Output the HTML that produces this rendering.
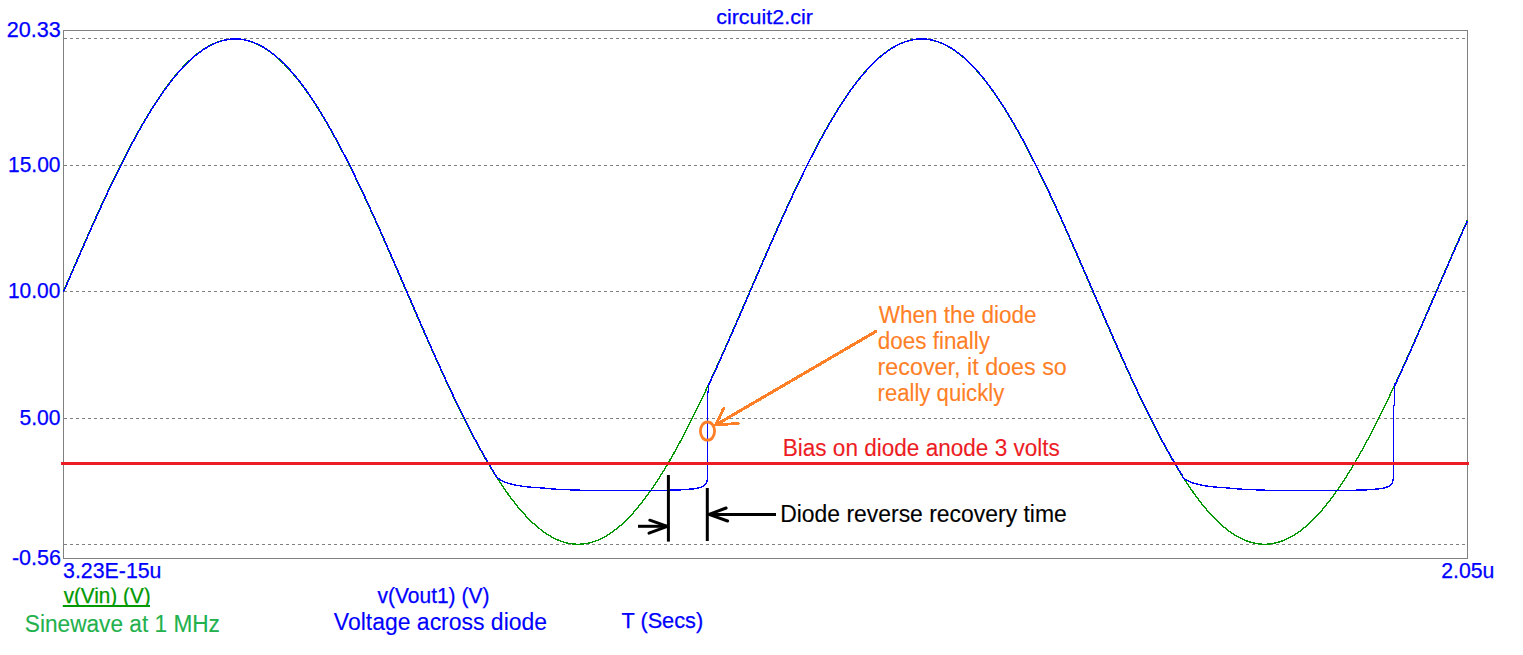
<!DOCTYPE html>
<html><head><meta charset="utf-8"><title>circuit2.cir</title>
<style>
html,body{margin:0;padding:0;background:#fff;}
body{width:1523px;height:655px;overflow:hidden;}
svg{display:block;}
text{font-family:"Liberation Sans",sans-serif;}
</style></head><body>
<svg width="1523" height="655" viewBox="0 0 1523 655">
<defs><clipPath id="cpv"><rect x="50" y="587.6" width="120" height="19.4"/></clipPath></defs>
<rect width="1523" height="655" fill="#fff"/>
<line x1="64" y1="38.5" x2="1467" y2="38.5" stroke="#808080" stroke-width="1" stroke-dasharray="3 3"/>
<line x1="64" y1="165.5" x2="1467" y2="165.5" stroke="#808080" stroke-width="1" stroke-dasharray="3 3"/>
<line x1="64" y1="291.5" x2="1467" y2="291.5" stroke="#808080" stroke-width="1" stroke-dasharray="3 3"/>
<line x1="64" y1="418.5" x2="1467" y2="418.5" stroke="#808080" stroke-width="1" stroke-dasharray="3 3"/>
<line x1="64" y1="544.5" x2="1467" y2="544.5" stroke="#808080" stroke-width="1" stroke-dasharray="3 3"/>

<rect x="63.5" y="30.5" width="1404" height="528" fill="none" stroke="#808080" stroke-width="1"/>
<path d="M63.5,291.1 L64.5,288.8 L65.5,286.5 L66.5,284.2 L67.5,281.9 L68.5,279.6 L69.5,277.3 L70.5,275.0 L71.5,272.7 L72.5,270.3 L73.5,268.0 L74.5,265.7 L75.5,263.4 L76.5,261.1 L77.5,258.9 L78.5,256.6 L79.5,254.3 L80.5,252.0 L81.5,249.7 L82.5,247.4 L83.5,245.1 L84.5,242.9 L85.5,240.6 L86.5,238.3 L87.5,236.1 L88.5,233.8 L89.5,231.6 L90.5,229.3 L91.5,227.1 L92.5,224.9 L93.5,222.6 L94.5,220.4 L95.5,218.2 L96.5,216.0 L97.5,213.8 L98.5,211.6 L99.5,209.4 L100.5,207.2 L101.5,205.0 L102.5,202.9 L103.5,200.7 L104.5,198.6 L105.5,196.4 L106.5,194.3 L107.5,192.1 L108.5,190.0 L109.5,187.9 L110.5,185.8 L111.5,183.7 L112.5,181.6 L113.5,179.5 L114.5,177.5 L115.5,175.4 L116.5,173.4 L117.5,171.3 L118.5,169.3 L119.5,167.3 L120.5,165.3 L121.5,163.3 L122.5,161.3 L123.5,159.3 L124.5,157.3 L125.5,155.4 L126.5,153.5 L127.5,151.5 L128.5,149.6 L129.5,147.7 L130.5,145.8 L131.5,143.9 L132.5,142.1 L133.5,140.2 L134.5,138.3 L135.5,136.5 L136.5,134.7 L137.5,132.9 L138.5,131.1 L139.5,129.3 L140.5,127.6 L141.5,125.8 L142.5,124.1 L143.5,122.3 L144.5,120.6 L145.5,118.9 L146.5,117.3 L147.5,115.6 L148.5,113.9 L149.5,112.3 L150.5,110.7 L151.5,109.1 L152.5,107.5 L153.5,105.9 L154.5,104.3 L155.5,102.8 L156.5,101.3 L157.5,99.8 L158.5,98.3 L159.5,96.8 L160.5,95.3 L161.5,93.9 L162.5,92.4 L163.5,91.0 L164.5,89.6 L165.5,88.2 L166.5,86.9 L167.5,85.5 L168.5,84.2 L169.5,82.9 L170.5,81.6 L171.5,80.3 L172.5,79.1 L173.5,77.8 L174.5,76.6 L175.5,75.4 L176.5,74.2 L177.5,73.0 L178.5,71.9 L179.5,70.7 L180.5,69.6 L181.5,68.5 L182.5,67.5 L183.5,66.4 L184.5,65.4 L185.5,64.3 L186.5,63.3 L187.5,62.4 L188.5,61.4 L189.5,60.5 L190.5,59.5 L191.5,58.6 L192.5,57.7 L193.5,56.9 L194.5,56.0 L195.5,55.2 L196.5,54.4 L197.5,53.6 L198.5,52.8 L199.5,52.1 L200.5,51.4 L201.5,50.7 L202.5,50.0 L203.5,49.3 L204.5,48.7 L205.5,48.0 L206.5,47.4 L207.5,46.9 L208.5,46.3 L209.5,45.7 L210.5,45.2 L211.5,44.7 L212.5,44.2 L213.5,43.8 L214.5,43.3 L215.5,42.9 L216.5,42.5 L217.5,42.1 L218.5,41.8 L219.5,41.5 L220.5,41.1 L221.5,40.8 L222.5,40.6 L223.5,40.3 L224.5,40.1 L225.5,39.9 L226.5,39.7 L227.5,39.5 L228.5,39.4 L229.5,39.3 L230.5,39.2 L231.5,39.1 L232.5,39.0 L233.5,39.0 L234.5,39.0 L235.5,39.0 L236.5,39.0 L237.5,39.0 L238.5,39.1 L239.5,39.2 L240.5,39.3 L241.5,39.4 L242.5,39.6 L243.5,39.7 L244.5,39.9 L245.5,40.1 L246.5,40.4 L247.5,40.6 L248.5,40.9 L249.5,41.2 L250.5,41.5 L251.5,41.9 L252.5,42.2 L253.5,42.6 L254.5,43.0 L255.5,43.4 L256.5,43.9 L257.5,44.3 L258.5,44.8 L259.5,45.3 L260.5,45.9 L261.5,46.4 L262.5,47.0 L263.5,47.6 L264.5,48.2 L265.5,48.8 L266.5,49.4 L267.5,50.1 L268.5,50.8 L269.5,51.5 L270.5,52.2 L271.5,53.0 L272.5,53.8 L273.5,54.6 L274.5,55.4 L275.5,56.2 L276.5,57.0 L277.5,57.9 L278.5,58.8 L279.5,59.7 L280.5,60.6 L281.5,61.6 L282.5,62.6 L283.5,63.5 L284.5,64.5 L285.5,65.6 L286.5,66.6 L287.5,67.7 L288.5,68.8 L289.5,69.9 L290.5,71.0 L291.5,72.1 L292.5,73.3 L293.5,74.4 L294.5,75.6 L295.5,76.8 L296.5,78.1 L297.5,79.3 L298.5,80.6 L299.5,81.9 L300.5,83.1 L301.5,84.5 L302.5,85.8 L303.5,87.1 L304.5,88.5 L305.5,89.9 L306.5,91.3 L307.5,92.7 L308.5,94.2 L309.5,95.6 L310.5,97.1 L311.5,98.6 L312.5,100.1 L313.5,101.6 L314.5,103.1 L315.5,104.7 L316.5,106.2 L317.5,107.8 L318.5,109.4 L319.5,111.0 L320.5,112.6 L321.5,114.3 L322.5,115.9 L323.5,117.6 L324.5,119.3 L325.5,121.0 L326.5,122.7 L327.5,124.4 L328.5,126.1 L329.5,127.9 L330.5,129.7 L331.5,131.5 L332.5,133.3 L333.5,135.1 L334.5,136.9 L335.5,138.7 L336.5,140.6 L337.5,142.4 L338.5,144.3 L339.5,146.2 L340.5,148.1 L341.5,150.0 L342.5,151.9 L343.5,153.8 L344.5,155.8 L345.5,157.7 L346.5,159.7 L347.5,161.7 L348.5,163.7 L349.5,165.7 L350.5,167.7 L351.5,169.7 L352.5,171.7 L353.5,173.8 L354.5,175.8 L355.5,177.9 L356.5,180.0 L357.5,182.0 L358.5,184.1 L359.5,186.2 L360.5,188.3 L361.5,190.4 L362.5,192.6 L363.5,194.7 L364.5,196.8 L365.5,199.0 L366.5,201.1 L367.5,203.3 L368.5,205.5 L369.5,207.7 L370.5,209.8 L371.5,212.0 L372.5,214.2 L373.5,216.4 L374.5,218.6 L375.5,220.9 L376.5,223.1 L377.5,225.3 L378.5,227.6 L379.5,229.8 L380.5,232.0 L381.5,234.3 L382.5,236.5 L383.5,238.8 L384.5,241.1 L385.5,243.3 L386.5,245.6 L387.5,247.9 L388.5,250.2 L389.5,252.4 L390.5,254.7 L391.5,257.0 L392.5,259.3 L393.5,261.6 L394.5,263.9 L395.5,266.2 L396.5,268.5 L397.5,270.8 L398.5,273.1 L399.5,275.4 L400.5,277.7 L401.5,280.0 L402.5,282.4 L403.5,284.7 L404.5,287.0 L405.5,289.3 L406.5,291.6 L407.5,293.9 L408.5,296.2 L409.5,298.5 L410.5,300.8 L411.5,303.2 L412.5,305.5 L413.5,307.8 L414.5,310.1 L415.5,312.4 L416.5,314.7 L417.5,317.0 L418.5,319.3 L419.5,321.6 L420.5,323.9 L421.5,326.2 L422.5,328.5 L423.5,330.8 L424.5,333.0 L425.5,335.3 L426.5,337.6 L427.5,339.9 L428.5,342.1 L429.5,344.4 L430.5,346.7 L431.5,348.9 L432.5,351.2 L433.5,353.4 L434.5,355.6 L435.5,357.9 L436.5,360.1 L437.5,362.3 L438.5,364.6 L439.5,366.8 L440.5,369.0 L441.5,371.2 L442.5,373.4 L443.5,375.5 L444.5,377.7 L445.5,379.9 L446.5,382.1 L447.5,384.2 L448.5,386.4 L449.5,388.5 L450.5,390.6 L451.5,392.8 L452.5,394.9 L453.5,397.0 L454.5,399.1 L455.5,401.2 L456.5,403.2 L457.5,405.3 L458.5,407.4 L459.5,409.4 L460.5,411.5 L461.5,413.5 L462.5,415.5 L463.5,417.5 L464.5,419.5 L465.5,421.5 L466.5,423.5 L467.5,425.5 L468.5,427.4 L469.5,429.4 L470.5,431.3 L471.5,433.2 L472.5,435.1 L473.5,437.0 L474.5,438.9 L475.5,440.8 L476.5,442.6 L477.5,444.5 L478.5,446.3 L479.5,448.1 L480.5,449.9 L481.5,451.7 L482.5,453.5 L483.5,455.3 L484.5,457.1 L485.5,458.8 L486.5,460.5 L487.5,462.2 L488.5,463.9 L489.5,465.6 L490.5,467.3 L491.5,468.9 L492.5,470.6 L493.5,472.2 L494.5,473.8 L495.5,475.4 L496.5,477.0 L497.5,478.5 L498.5,480.1 L499.5,481.6 L500.5,483.1 L501.5,484.6 L502.5,486.1 L503.5,487.6 L504.5,489.0 L505.5,490.5 L506.5,491.9 L507.5,493.3 L508.5,494.7 L509.5,496.1 L510.5,497.4 L511.5,498.7 L512.5,500.1 L513.5,501.3 L514.5,502.6 L515.5,503.9 L516.5,505.1 L517.5,506.4 L518.5,507.6 L519.5,508.8 L520.5,509.9 L521.5,511.1 L522.5,512.2 L523.5,513.3 L524.5,514.4 L525.5,515.5 L526.5,516.6 L527.5,517.6 L528.5,518.7 L529.5,519.7 L530.5,520.6 L531.5,521.6 L532.5,522.6 L533.5,523.5 L534.5,524.4 L535.5,525.3 L536.5,526.2 L537.5,527.0 L538.5,527.8 L539.5,528.6 L540.5,529.4 L541.5,530.2 L542.5,531.0 L543.5,531.7 L544.5,532.4 L545.5,533.1 L546.5,533.8 L547.5,534.4 L548.5,535.0 L549.5,535.6 L550.5,536.2 L551.5,536.8 L552.5,537.3 L553.5,537.9 L554.5,538.4 L555.5,538.9 L556.5,539.3 L557.5,539.8 L558.5,540.2 L559.5,540.6 L560.5,541.0 L561.5,541.3 L562.5,541.7 L563.5,542.0 L564.5,542.3 L565.5,542.6 L566.5,542.8 L567.5,543.1 L568.5,543.3 L569.5,543.5 L570.5,543.6 L571.5,543.8 L572.5,543.9 L573.5,544.0 L574.5,544.1 L575.5,544.2 L576.5,544.2 L577.5,544.2 L578.5,544.2 L579.5,544.2 L580.5,544.2 L581.5,544.1 L582.5,544.0 L583.5,543.9 L584.5,543.8 L585.5,543.7 L586.5,543.5 L587.5,543.3 L588.5,543.1 L589.5,542.9 L590.5,542.6 L591.5,542.4 L592.5,542.1 L593.5,541.7 L594.5,541.4 L595.5,541.1 L596.5,540.7 L597.5,540.3 L598.5,539.9 L599.5,539.4 L600.5,539.0 L601.5,538.5 L602.5,538.0 L603.5,537.5 L604.5,536.9 L605.5,536.3 L606.5,535.8 L607.5,535.2 L608.5,534.5 L609.5,533.9 L610.5,533.2 L611.5,532.5 L612.5,531.8 L613.5,531.1 L614.5,530.4 L615.5,529.6 L616.5,528.8 L617.5,528.0 L618.5,527.2 L619.5,526.3 L620.5,525.5 L621.5,524.6 L622.5,523.7 L623.5,522.7 L624.5,521.8 L625.5,520.8 L626.5,519.9 L627.5,518.9 L628.5,517.8 L629.5,516.8 L630.5,515.7 L631.5,514.7 L632.5,513.6 L633.5,512.5 L634.5,511.3 L635.5,510.2 L636.5,509.0 L637.5,507.8 L638.5,506.6 L639.5,505.4 L640.5,504.1 L641.5,502.9 L642.5,501.6 L643.5,500.3 L644.5,499.0 L645.5,497.7 L646.5,496.3 L647.5,495.0 L648.5,493.6 L649.5,492.2 L650.5,490.8 L651.5,489.3 L652.5,487.9 L653.5,486.4 L654.5,484.9 L655.5,483.4 L656.5,481.9 L657.5,480.4 L658.5,478.9 L659.5,477.3 L660.5,475.7 L661.5,474.1 L662.5,472.5 L663.5,470.9 L664.5,469.3 L665.5,467.6 L666.5,465.9 L667.5,464.3 L668.5,462.6 L669.5,460.9 L670.5,459.1 L671.5,457.4 L672.5,455.6 L673.5,453.9 L674.5,452.1 L675.5,450.3 L676.5,448.5 L677.5,446.7 L678.5,444.9 L679.5,443.0 L680.5,441.1 L681.5,439.3 L682.5,437.4 L683.5,435.5 L684.5,433.6 L685.5,431.7 L686.5,429.7 L687.5,427.8 L688.5,425.9 L689.5,423.9 L690.5,421.9 L691.5,419.9 L692.5,417.9 L693.5,415.9 L694.5,413.9 L695.5,411.9 L696.5,409.8 L697.5,407.8 L698.5,405.7 L699.5,403.7 L700.5,401.6 L701.5,399.5 L702.5,397.4 L703.5,395.3 L704.5,393.2 L705.5,391.1 L706.5,388.9 L707.5,386.8 L708.5,384.6 L709.5,382.5 L710.5,380.3 L711.5,378.2 L712.5,376.0 L713.5,373.8 L714.5,371.6 L715.5,369.4 L716.5,367.2 L717.5,365.0 L718.5,362.8 L719.5,360.6 L720.5,358.3 L721.5,356.1 L722.5,353.9 L723.5,351.6 L724.5,349.4 L725.5,347.1 L726.5,344.9 L727.5,342.6 L728.5,340.3 L729.5,338.1 L730.5,335.8 L731.5,333.5 L732.5,331.2 L733.5,328.9 L734.5,326.6 L735.5,324.3 L736.5,322.1 L737.5,319.8 L738.5,317.5 L739.5,315.2 L740.5,312.9 L741.5,310.5 L742.5,308.2 L743.5,305.9 L744.5,303.6 L745.5,301.3 L746.5,299.0 L747.5,296.7 L748.5,294.4 L749.5,292.1 L750.5,289.7 L751.5,287.4 L752.5,285.1 L753.5,282.8 L754.5,280.5 L755.5,278.2 L756.5,275.9 L757.5,273.6 L758.5,271.3 L759.5,269.0 L760.5,266.7 L761.5,264.4 L762.5,262.1 L763.5,259.8 L764.5,257.5 L765.5,255.2 L766.5,252.9 L767.5,250.6 L768.5,248.3 L769.5,246.1 L770.5,243.8 L771.5,241.5 L772.5,239.3 L773.5,237.0 L774.5,234.7 L775.5,232.5 L776.5,230.2 L777.5,228.0 L778.5,225.8 L779.5,223.5 L780.5,221.3 L781.5,219.1 L782.5,216.9 L783.5,214.7 L784.5,212.5 L785.5,210.3 L786.5,208.1 L787.5,205.9 L788.5,203.7 L789.5,201.6 L790.5,199.4 L791.5,197.3 L792.5,195.1 L793.5,193.0 L794.5,190.9 L795.5,188.8 L796.5,186.6 L797.5,184.5 L798.5,182.5 L799.5,180.4 L800.5,178.3 L801.5,176.2 L802.5,174.2 L803.5,172.1 L804.5,170.1 L805.5,168.1 L806.5,166.1 L807.5,164.1 L808.5,162.1 L809.5,160.1 L810.5,158.1 L811.5,156.2 L812.5,154.2 L813.5,152.3 L814.5,150.4 L815.5,148.5 L816.5,146.6 L817.5,144.7 L818.5,142.8 L819.5,140.9 L820.5,139.1 L821.5,137.2 L822.5,135.4 L823.5,133.6 L824.5,131.8 L825.5,130.0 L826.5,128.3 L827.5,126.5 L828.5,124.8 L829.5,123.0 L830.5,121.3 L831.5,119.6 L832.5,117.9 L833.5,116.2 L834.5,114.6 L835.5,112.9 L836.5,111.3 L837.5,109.7 L838.5,108.1 L839.5,106.5 L840.5,105.0 L841.5,103.4 L842.5,101.9 L843.5,100.4 L844.5,98.9 L845.5,97.4 L846.5,95.9 L847.5,94.4 L848.5,93.0 L849.5,91.6 L850.5,90.2 L851.5,88.8 L852.5,87.4 L853.5,86.1 L854.5,84.7 L855.5,83.4 L856.5,82.1 L857.5,80.8 L858.5,79.6 L859.5,78.3 L860.5,77.1 L861.5,75.9 L862.5,74.7 L863.5,73.5 L864.5,72.3 L865.5,71.2 L866.5,70.1 L867.5,69.0 L868.5,67.9 L869.5,66.8 L870.5,65.8 L871.5,64.7 L872.5,63.7 L873.5,62.8 L874.5,61.8 L875.5,60.8 L876.5,59.9 L877.5,59.0 L878.5,58.1 L879.5,57.2 L880.5,56.4 L881.5,55.5 L882.5,54.7 L883.5,53.9 L884.5,53.1 L885.5,52.4 L886.5,51.7 L887.5,50.9 L888.5,50.3 L889.5,49.6 L890.5,48.9 L891.5,48.3 L892.5,47.7 L893.5,47.1 L894.5,46.5 L895.5,46.0 L896.5,45.4 L897.5,44.9 L898.5,44.4 L899.5,44.0 L900.5,43.5 L901.5,43.1 L902.5,42.7 L903.5,42.3 L904.5,41.9 L905.5,41.6 L906.5,41.3 L907.5,41.0 L908.5,40.7 L909.5,40.4 L910.5,40.2 L911.5,40.0 L912.5,39.8 L913.5,39.6 L914.5,39.4 L915.5,39.3 L916.5,39.2 L917.5,39.1 L918.5,39.0 L919.5,39.0 L920.5,39.0 L921.5,39.0 L922.5,39.0 L923.5,39.0 L924.5,39.1 L925.5,39.1 L926.5,39.2 L927.5,39.4 L928.5,39.5 L929.5,39.7 L930.5,39.8 L931.5,40.1 L932.5,40.3 L933.5,40.5 L934.5,40.8 L935.5,41.1 L936.5,41.4 L937.5,41.7 L938.5,42.1 L939.5,42.4 L940.5,42.8 L941.5,43.3 L942.5,43.7 L943.5,44.1 L944.5,44.6 L945.5,45.1 L946.5,45.6 L947.5,46.2 L948.5,46.7 L949.5,47.3 L950.5,47.9 L951.5,48.5 L952.5,49.2 L953.5,49.8 L954.5,50.5 L955.5,51.2 L956.5,52.0 L957.5,52.7 L958.5,53.5 L959.5,54.2 L960.5,55.0 L961.5,55.9 L962.5,56.7 L963.5,57.6 L964.5,58.4 L965.5,59.3 L966.5,60.3 L967.5,61.2 L968.5,62.2 L969.5,63.1 L970.5,64.1 L971.5,65.2 L972.5,66.2 L973.5,67.2 L974.5,68.3 L975.5,69.4 L976.5,70.5 L977.5,71.7 L978.5,72.8 L979.5,74.0 L980.5,75.1 L981.5,76.3 L982.5,77.6 L983.5,78.8 L984.5,80.1 L985.5,81.3 L986.5,82.6 L987.5,83.9 L988.5,85.3 L989.5,86.6 L990.5,88.0 L991.5,89.3 L992.5,90.7 L993.5,92.1 L994.5,93.6 L995.5,95.0 L996.5,96.5 L997.5,98.0 L998.5,99.5 L999.5,101.0 L1000.5,102.5 L1001.5,104.0 L1002.5,105.6 L1003.5,107.2 L1004.5,108.7 L1005.5,110.4 L1006.5,112.0 L1007.5,113.6 L1008.5,115.3 L1009.5,116.9 L1010.5,118.6 L1011.5,120.3 L1012.5,122.0 L1013.5,123.7 L1014.5,125.5 L1015.5,127.2 L1016.5,129.0 L1017.5,130.7 L1018.5,132.5 L1019.5,134.3 L1020.5,136.2 L1021.5,138.0 L1022.5,139.8 L1023.5,141.7 L1024.5,143.5 L1025.5,145.4 L1026.5,147.3 L1027.5,149.2 L1028.5,151.1 L1029.5,153.1 L1030.5,155.0 L1031.5,157.0 L1032.5,158.9 L1033.5,160.9 L1034.5,162.9 L1035.5,164.9 L1036.5,166.9 L1037.5,168.9 L1038.5,170.9 L1039.5,173.0 L1040.5,175.0 L1041.5,177.1 L1042.5,179.1 L1043.5,181.2 L1044.5,183.3 L1045.5,185.4 L1046.5,187.5 L1047.5,189.6 L1048.5,191.7 L1049.5,193.8 L1050.5,196.0 L1051.5,198.1 L1052.5,200.3 L1053.5,202.4 L1054.5,204.6 L1055.5,206.8 L1056.5,209.0 L1057.5,211.2 L1058.5,213.4 L1059.5,215.6 L1060.5,217.8 L1061.5,220.0 L1062.5,222.2 L1063.5,224.4 L1064.5,226.7 L1065.5,228.9 L1066.5,231.1 L1067.5,233.4 L1068.5,235.6 L1069.5,237.9 L1070.5,240.2 L1071.5,242.4 L1072.5,244.7 L1073.5,247.0 L1074.5,249.2 L1075.5,251.5 L1076.5,253.8 L1077.5,256.1 L1078.5,258.4 L1079.5,260.7 L1080.5,263.0 L1081.5,265.3 L1082.5,267.6 L1083.5,269.9 L1084.5,272.2 L1085.5,274.5 L1086.5,276.8 L1087.5,279.1 L1088.5,281.4 L1089.5,283.7 L1090.5,286.0 L1091.5,288.4 L1092.5,290.7 L1093.5,293.0 L1094.5,295.3 L1095.5,297.6 L1096.5,299.9 L1097.5,302.2 L1098.5,304.5 L1099.5,306.9 L1100.5,309.2 L1101.5,311.5 L1102.5,313.8 L1103.5,316.1 L1104.5,318.4 L1105.5,320.7 L1106.5,323.0 L1107.5,325.3 L1108.5,327.6 L1109.5,329.8 L1110.5,332.1 L1111.5,334.4 L1112.5,336.7 L1113.5,339.0 L1114.5,341.2 L1115.5,343.5 L1116.5,345.8 L1117.5,348.0 L1118.5,350.3 L1119.5,352.5 L1120.5,354.8 L1121.5,357.0 L1122.5,359.2 L1123.5,361.4 L1124.5,363.7 L1125.5,365.9 L1126.5,368.1 L1127.5,370.3 L1128.5,372.5 L1129.5,374.7 L1130.5,376.9 L1131.5,379.0 L1132.5,381.2 L1133.5,383.3 L1134.5,385.5 L1135.5,387.6 L1136.5,389.8 L1137.5,391.9 L1138.5,394.0 L1139.5,396.1 L1140.5,398.2 L1141.5,400.3 L1142.5,402.4 L1143.5,404.5 L1144.5,406.5 L1145.5,408.6 L1146.5,410.6 L1147.5,412.7 L1148.5,414.7 L1149.5,416.7 L1150.5,418.7 L1151.5,420.7 L1152.5,422.7 L1153.5,424.7 L1154.5,426.6 L1155.5,428.6 L1156.5,430.5 L1157.5,432.4 L1158.5,434.4 L1159.5,436.3 L1160.5,438.2 L1161.5,440.0 L1162.5,441.9 L1163.5,443.7 L1164.5,445.6 L1165.5,447.4 L1166.5,449.2 L1167.5,451.0 L1168.5,452.8 L1169.5,454.6 L1170.5,456.4 L1171.5,458.1 L1172.5,459.8 L1173.5,461.5 L1174.5,463.3 L1175.5,464.9 L1176.5,466.6 L1177.5,468.3 L1178.5,469.9 L1179.5,471.6 L1180.5,473.2 L1181.5,474.8 L1182.5,476.4 L1183.5,477.9 L1184.5,479.5 L1185.5,481.0 L1186.5,482.5 L1187.5,484.0 L1188.5,485.5 L1189.5,487.0 L1190.5,488.5 L1191.5,489.9 L1192.5,491.3 L1193.5,492.7 L1194.5,494.1 L1195.5,495.5 L1196.5,496.9 L1197.5,498.2 L1198.5,499.5 L1199.5,500.8 L1200.5,502.1 L1201.5,503.4 L1202.5,504.6 L1203.5,505.9 L1204.5,507.1 L1205.5,508.3 L1206.5,509.5 L1207.5,510.6 L1208.5,511.8 L1209.5,512.9 L1210.5,514.0 L1211.5,515.1 L1212.5,516.2 L1213.5,517.2 L1214.5,518.2 L1215.5,519.3 L1216.5,520.3 L1217.5,521.2 L1218.5,522.2 L1219.5,523.1 L1220.5,524.0 L1221.5,524.9 L1222.5,525.8 L1223.5,526.7 L1224.5,527.5 L1225.5,528.3 L1226.5,529.1 L1227.5,529.9 L1228.5,530.7 L1229.5,531.4 L1230.5,532.1 L1231.5,532.8 L1232.5,533.5 L1233.5,534.1 L1234.5,534.8 L1235.5,535.4 L1236.5,536.0 L1237.5,536.6 L1238.5,537.1 L1239.5,537.7 L1240.5,538.2 L1241.5,538.7 L1242.5,539.1 L1243.5,539.6 L1244.5,540.0 L1245.5,540.4 L1246.5,540.8 L1247.5,541.2 L1248.5,541.5 L1249.5,541.9 L1250.5,542.2 L1251.5,542.5 L1252.5,542.7 L1253.5,543.0 L1254.5,543.2 L1255.5,543.4 L1256.5,543.6 L1257.5,543.7 L1258.5,543.9 L1259.5,544.0 L1260.5,544.1 L1261.5,544.2 L1262.5,544.2 L1263.5,544.2 L1264.5,544.2 L1265.5,544.2 L1266.5,544.2 L1267.5,544.2 L1268.5,544.1 L1269.5,544.0 L1270.5,543.9 L1271.5,543.7 L1272.5,543.6 L1273.5,543.4 L1274.5,543.2 L1275.5,543.0 L1276.5,542.7 L1277.5,542.5 L1278.5,542.2 L1279.5,541.9 L1280.5,541.5 L1281.5,541.2 L1282.5,540.8 L1283.5,540.4 L1284.5,540.0 L1285.5,539.6 L1286.5,539.1 L1287.5,538.7 L1288.5,538.2 L1289.5,537.7 L1290.5,537.1 L1291.5,536.6 L1292.5,536.0 L1293.5,535.4 L1294.5,534.8 L1295.5,534.1 L1296.5,533.5 L1297.5,532.8 L1298.5,532.1 L1299.5,531.4 L1300.5,530.7 L1301.5,529.9 L1302.5,529.1 L1303.5,528.3 L1304.5,527.5 L1305.5,526.7 L1306.5,525.8 L1307.5,524.9 L1308.5,524.0 L1309.5,523.1 L1310.5,522.2 L1311.5,521.2 L1312.5,520.3 L1313.5,519.3 L1314.5,518.2 L1315.5,517.2 L1316.5,516.2 L1317.5,515.1 L1318.5,514.0 L1319.5,512.9 L1320.5,511.8 L1321.5,510.6 L1322.5,509.5 L1323.5,508.3 L1324.5,507.1 L1325.5,505.9 L1326.5,504.6 L1327.5,503.4 L1328.5,502.1 L1329.5,500.8 L1330.5,499.5 L1331.5,498.2 L1332.5,496.9 L1333.5,495.5 L1334.5,494.1 L1335.5,492.7 L1336.5,491.3 L1337.5,489.9 L1338.5,488.5 L1339.5,487.0 L1340.5,485.5 L1341.5,484.0 L1342.5,482.5 L1343.5,481.0 L1344.5,479.5 L1345.5,477.9 L1346.5,476.4 L1347.5,474.8 L1348.5,473.2 L1349.5,471.6 L1350.5,469.9 L1351.5,468.3 L1352.5,466.6 L1353.5,464.9 L1354.5,463.3 L1355.5,461.5 L1356.5,459.8 L1357.5,458.1 L1358.5,456.4 L1359.5,454.6 L1360.5,452.8 L1361.5,451.0 L1362.5,449.2 L1363.5,447.4 L1364.5,445.6 L1365.5,443.7 L1366.5,441.9 L1367.5,440.0 L1368.5,438.2 L1369.5,436.3 L1370.5,434.4 L1371.5,432.4 L1372.5,430.5 L1373.5,428.6 L1374.5,426.6 L1375.5,424.7 L1376.5,422.7 L1377.5,420.7 L1378.5,418.7 L1379.5,416.7 L1380.5,414.7 L1381.5,412.7 L1382.5,410.6 L1383.5,408.6 L1384.5,406.5 L1385.5,404.5 L1386.5,402.4 L1387.5,400.3 L1388.5,398.2 L1389.5,396.1 L1390.5,394.0 L1391.5,391.9 L1392.5,389.8 L1393.5,387.6 L1394.5,385.5 L1395.5,383.3 L1396.5,381.2 L1397.5,379.0 L1398.5,376.9 L1399.5,374.7 L1400.5,372.5 L1401.5,370.3 L1402.5,368.1 L1403.5,365.9 L1404.5,363.7 L1405.5,361.4 L1406.5,359.2 L1407.5,357.0 L1408.5,354.8 L1409.5,352.5 L1410.5,350.3 L1411.5,348.0 L1412.5,345.8 L1413.5,343.5 L1414.5,341.2 L1415.5,339.0 L1416.5,336.7 L1417.5,334.4 L1418.5,332.1 L1419.5,329.8 L1420.5,327.6 L1421.5,325.3 L1422.5,323.0 L1423.5,320.7 L1424.5,318.4 L1425.5,316.1 L1426.5,313.8 L1427.5,311.5 L1428.5,309.2 L1429.5,306.9 L1430.5,304.5 L1431.5,302.2 L1432.5,299.9 L1433.5,297.6 L1434.5,295.3 L1435.5,293.0 L1436.5,290.7 L1437.5,288.4 L1438.5,286.0 L1439.5,283.7 L1440.5,281.4 L1441.5,279.1 L1442.5,276.8 L1443.5,274.5 L1444.5,272.2 L1445.5,269.9 L1446.5,267.6 L1447.5,265.3 L1448.5,263.0 L1449.5,260.7 L1450.5,258.4 L1451.5,256.1 L1452.5,253.8 L1453.5,251.5 L1454.5,249.2 L1455.5,247.0 L1456.5,244.7 L1457.5,242.4 L1458.5,240.2 L1459.5,237.9 L1460.5,235.6 L1461.5,233.4 L1462.5,231.1 L1463.5,228.9 L1464.5,226.7 L1465.5,224.4 L1466.5,222.2 L1467.5,220.0" fill="none" stroke="#009600" stroke-width="1.4" stroke-linejoin="round" shape-rendering="crispEdges"/>
<path d="M63.5,292.1 L64.5,289.7 L65.5,287.4 L66.5,285.1 L67.5,282.8 L68.5,280.5 L69.5,278.2 L70.5,275.9 L71.5,273.6 L72.5,271.3 L73.5,269.0 L74.5,266.7 L75.5,264.4 L76.5,262.1 L77.5,259.8 L78.5,257.5 L79.5,255.2 L80.5,252.9 L81.5,250.6 L82.5,248.3 L83.5,246.1 L84.5,243.8 L85.5,241.5 L86.5,239.3 L87.5,237.0 L88.5,234.7 L89.5,232.5 L90.5,230.2 L91.5,228.0 L92.5,225.8 L93.5,223.5 L94.5,221.3 L95.5,219.1 L96.5,216.9 L97.5,214.7 L98.5,212.5 L99.5,210.3 L100.5,208.1 L101.5,205.9 L102.5,203.7 L103.5,201.6 L104.5,199.4 L105.5,197.3 L106.5,195.1 L107.5,193.0 L108.5,190.9 L109.5,188.8 L110.5,186.6 L111.5,184.5 L112.5,182.5 L113.5,180.4 L114.5,178.3 L115.5,176.2 L116.5,174.2 L117.5,172.1 L118.5,170.1 L119.5,168.1 L120.5,166.1 L121.5,164.1 L122.5,162.1 L123.5,160.1 L124.5,158.1 L125.5,156.2 L126.5,154.2 L127.5,152.3 L128.5,150.4 L129.5,148.5 L130.5,146.6 L131.5,144.7 L132.5,142.8 L133.5,140.9 L134.5,139.1 L135.5,137.2 L136.5,135.4 L137.5,133.6 L138.5,131.8 L139.5,130.0 L140.5,128.3 L141.5,126.5 L142.5,124.8 L143.5,123.0 L144.5,121.3 L145.5,119.6 L146.5,117.9 L147.5,116.2 L148.5,114.6 L149.5,112.9 L150.5,111.3 L151.5,109.7 L152.5,108.1 L153.5,106.5 L154.5,105.0 L155.5,103.4 L156.5,101.9 L157.5,100.4 L158.5,98.9 L159.5,97.4 L160.5,95.9 L161.5,94.4 L162.5,93.0 L163.5,91.6 L164.5,90.2 L165.5,88.8 L166.5,87.4 L167.5,86.1 L168.5,84.7 L169.5,83.4 L170.5,82.1 L171.5,80.8 L172.5,79.6 L173.5,78.3 L174.5,77.1 L175.5,75.9 L176.5,74.7 L177.5,73.5 L178.5,72.3 L179.5,71.2 L180.5,70.1 L181.5,69.0 L182.5,67.9 L183.5,66.8 L184.5,65.8 L185.5,64.7 L186.5,63.7 L187.5,62.8 L188.5,61.8 L189.5,60.8 L190.5,59.9 L191.5,59.0 L192.5,58.1 L193.5,57.2 L194.5,56.4 L195.5,55.5 L196.5,54.7 L197.5,53.9 L198.5,53.1 L199.5,52.4 L200.5,51.7 L201.5,50.9 L202.5,50.3 L203.5,49.6 L204.5,48.9 L205.5,48.3 L206.5,47.7 L207.5,47.1 L208.5,46.5 L209.5,46.0 L210.5,45.4 L211.5,44.9 L212.5,44.4 L213.5,44.0 L214.5,43.5 L215.5,43.1 L216.5,42.7 L217.5,42.3 L218.5,41.9 L219.5,41.6 L220.5,41.3 L221.5,41.0 L222.5,40.7 L223.5,40.4 L224.5,40.2 L225.5,40.0 L226.5,39.8 L227.5,39.6 L228.5,39.4 L229.5,39.3 L230.5,39.2 L231.5,39.1 L232.5,39.0 L233.5,39.0 L234.5,39.0 L235.5,39.0 L236.5,39.0 L237.5,39.0 L238.5,39.1 L239.5,39.1 L240.5,39.2 L241.5,39.4 L242.5,39.5 L243.5,39.7 L244.5,39.8 L245.5,40.1 L246.5,40.3 L247.5,40.5 L248.5,40.8 L249.5,41.1 L250.5,41.4 L251.5,41.7 L252.5,42.1 L253.5,42.4 L254.5,42.8 L255.5,43.3 L256.5,43.7 L257.5,44.1 L258.5,44.6 L259.5,45.1 L260.5,45.6 L261.5,46.2 L262.5,46.7 L263.5,47.3 L264.5,47.9 L265.5,48.5 L266.5,49.2 L267.5,49.8 L268.5,50.5 L269.5,51.2 L270.5,52.0 L271.5,52.7 L272.5,53.5 L273.5,54.2 L274.5,55.0 L275.5,55.9 L276.5,56.7 L277.5,57.6 L278.5,58.4 L279.5,59.3 L280.5,60.3 L281.5,61.2 L282.5,62.2 L283.5,63.1 L284.5,64.1 L285.5,65.2 L286.5,66.2 L287.5,67.2 L288.5,68.3 L289.5,69.4 L290.5,70.5 L291.5,71.7 L292.5,72.8 L293.5,74.0 L294.5,75.1 L295.5,76.3 L296.5,77.6 L297.5,78.8 L298.5,80.1 L299.5,81.3 L300.5,82.6 L301.5,83.9 L302.5,85.3 L303.5,86.6 L304.5,88.0 L305.5,89.3 L306.5,90.7 L307.5,92.1 L308.5,93.6 L309.5,95.0 L310.5,96.5 L311.5,98.0 L312.5,99.5 L313.5,101.0 L314.5,102.5 L315.5,104.0 L316.5,105.6 L317.5,107.2 L318.5,108.7 L319.5,110.4 L320.5,112.0 L321.5,113.6 L322.5,115.3 L323.5,116.9 L324.5,118.6 L325.5,120.3 L326.5,122.0 L327.5,123.7 L328.5,125.5 L329.5,127.2 L330.5,129.0 L331.5,130.7 L332.5,132.5 L333.5,134.3 L334.5,136.2 L335.5,138.0 L336.5,139.8 L337.5,141.7 L338.5,143.5 L339.5,145.4 L340.5,147.3 L341.5,149.2 L342.5,151.1 L343.5,153.1 L344.5,155.0 L345.5,157.0 L346.5,158.9 L347.5,160.9 L348.5,162.9 L349.5,164.9 L350.5,166.9 L351.5,168.9 L352.5,170.9 L353.5,173.0 L354.5,175.0 L355.5,177.1 L356.5,179.1 L357.5,181.2 L358.5,183.3 L359.5,185.4 L360.5,187.5 L361.5,189.6 L362.5,191.7 L363.5,193.8 L364.5,196.0 L365.5,198.1 L366.5,200.3 L367.5,202.4 L368.5,204.6 L369.5,206.8 L370.5,209.0 L371.5,211.2 L372.5,213.4 L373.5,215.6 L374.5,217.8 L375.5,220.0 L376.5,222.2 L377.5,224.4 L378.5,226.7 L379.5,228.9 L380.5,231.1 L381.5,233.4 L382.5,235.6 L383.5,237.9 L384.5,240.2 L385.5,242.4 L386.5,244.7 L387.5,247.0 L388.5,249.2 L389.5,251.5 L390.5,253.8 L391.5,256.1 L392.5,258.4 L393.5,260.7 L394.5,263.0 L395.5,265.3 L396.5,267.6 L397.5,269.9 L398.5,272.2 L399.5,274.5 L400.5,276.8 L401.5,279.1 L402.5,281.4 L403.5,283.7 L404.5,286.0 L405.5,288.4 L406.5,290.7 L407.5,293.0 L408.5,295.3 L409.5,297.6 L410.5,299.9 L411.5,302.2 L412.5,304.5 L413.5,306.9 L414.5,309.2 L415.5,311.5 L416.5,313.8 L417.5,316.1 L418.5,318.4 L419.5,320.7 L420.5,323.0 L421.5,325.3 L422.5,327.6 L423.5,329.8 L424.5,332.1 L425.5,334.4 L426.5,336.7 L427.5,339.0 L428.5,341.2 L429.5,343.5 L430.5,345.8 L431.5,348.0 L432.5,350.3 L433.5,352.5 L434.5,354.8 L435.5,357.0 L436.5,359.2 L437.5,361.4 L438.5,363.7 L439.5,365.9 L440.5,368.1 L441.5,370.3 L442.5,372.5 L443.5,374.7 L444.5,376.9 L445.5,379.0 L446.5,381.2 L447.5,383.3 L448.5,385.5 L449.5,387.6 L450.5,389.8 L451.5,391.9 L452.5,394.0 L453.5,396.1 L454.5,398.2 L455.5,400.3 L456.5,402.4 L457.5,404.5 L458.5,406.5 L459.5,408.6 L460.5,410.6 L461.5,412.7 L462.5,414.7 L463.5,416.7 L464.5,418.7 L465.5,420.7 L466.5,422.7 L467.5,424.7 L468.5,426.6 L469.5,428.6 L470.5,430.5 L471.5,432.4 L472.5,434.4 L473.5,436.3 L474.5,438.2 L475.5,440.0 L476.5,441.9 L477.5,443.7 L478.5,445.6 L479.5,447.4 L480.5,449.2 L481.5,451.0 L482.5,452.8 L483.5,454.6 L484.5,456.4 L485.5,458.1 L486.5,459.8 L487.5,461.5 L488.5,463.3 L489.5,464.9 L490.5,466.6 L491.5,468.3 L492.5,469.9 L493.5,471.6 L494.5,473.2 L495.5,474.8 L496.5,476.4 L496.9,477.4 L500.0,479.6 L503.0,481.4 L508.0,483.3 L515.0,485.0 L522.0,486.2 L531.0,487.2 L540.0,487.8 L555.7,489.2 L581.8,490.3 L620.0,490.5 L662.0,490.5 L684.0,489.7 L695.7,488.6 L700.0,487.6 L703.5,486.0 L705.8,484.0 L707.0,481.5 L707.4,479.0 L707.4,392.0 L708.4,392.0 L708.4,384.0 L708.5,385.5 L709.5,383.3 L710.5,381.2 L711.5,379.0 L712.5,376.9 L713.5,374.7 L714.5,372.5 L715.5,370.3 L716.5,368.1 L717.5,365.9 L718.5,363.7 L719.5,361.4 L720.5,359.2 L721.5,357.0 L722.5,354.8 L723.5,352.5 L724.5,350.3 L725.5,348.0 L726.5,345.8 L727.5,343.5 L728.5,341.2 L729.5,339.0 L730.5,336.7 L731.5,334.4 L732.5,332.1 L733.5,329.8 L734.5,327.6 L735.5,325.3 L736.5,323.0 L737.5,320.7 L738.5,318.4 L739.5,316.1 L740.5,313.8 L741.5,311.5 L742.5,309.2 L743.5,306.9 L744.5,304.5 L745.5,302.2 L746.5,299.9 L747.5,297.6 L748.5,295.3 L749.5,293.0 L750.5,290.7 L751.5,288.4 L752.5,286.0 L753.5,283.7 L754.5,281.4 L755.5,279.1 L756.5,276.8 L757.5,274.5 L758.5,272.2 L759.5,269.9 L760.5,267.6 L761.5,265.3 L762.5,263.0 L763.5,260.7 L764.5,258.4 L765.5,256.1 L766.5,253.8 L767.5,251.5 L768.5,249.2 L769.5,247.0 L770.5,244.7 L771.5,242.4 L772.5,240.2 L773.5,237.9 L774.5,235.6 L775.5,233.4 L776.5,231.1 L777.5,228.9 L778.5,226.7 L779.5,224.4 L780.5,222.2 L781.5,220.0 L782.5,217.8 L783.5,215.6 L784.5,213.4 L785.5,211.2 L786.5,209.0 L787.5,206.8 L788.5,204.6 L789.5,202.4 L790.5,200.3 L791.5,198.1 L792.5,196.0 L793.5,193.8 L794.5,191.7 L795.5,189.6 L796.5,187.5 L797.5,185.4 L798.5,183.3 L799.5,181.2 L800.5,179.1 L801.5,177.1 L802.5,175.0 L803.5,173.0 L804.5,170.9 L805.5,168.9 L806.5,166.9 L807.5,164.9 L808.5,162.9 L809.5,160.9 L810.5,158.9 L811.5,157.0 L812.5,155.0 L813.5,153.1 L814.5,151.1 L815.5,149.2 L816.5,147.3 L817.5,145.4 L818.5,143.5 L819.5,141.7 L820.5,139.8 L821.5,138.0 L822.5,136.2 L823.5,134.3 L824.5,132.5 L825.5,130.7 L826.5,129.0 L827.5,127.2 L828.5,125.5 L829.5,123.7 L830.5,122.0 L831.5,120.3 L832.5,118.6 L833.5,116.9 L834.5,115.3 L835.5,113.6 L836.5,112.0 L837.5,110.4 L838.5,108.7 L839.5,107.2 L840.5,105.6 L841.5,104.0 L842.5,102.5 L843.5,101.0 L844.5,99.5 L845.5,98.0 L846.5,96.5 L847.5,95.0 L848.5,93.6 L849.5,92.1 L850.5,90.7 L851.5,89.3 L852.5,88.0 L853.5,86.6 L854.5,85.3 L855.5,83.9 L856.5,82.6 L857.5,81.3 L858.5,80.1 L859.5,78.8 L860.5,77.6 L861.5,76.3 L862.5,75.1 L863.5,74.0 L864.5,72.8 L865.5,71.7 L866.5,70.5 L867.5,69.4 L868.5,68.3 L869.5,67.2 L870.5,66.2 L871.5,65.2 L872.5,64.1 L873.5,63.1 L874.5,62.2 L875.5,61.2 L876.5,60.3 L877.5,59.3 L878.5,58.4 L879.5,57.6 L880.5,56.7 L881.5,55.9 L882.5,55.0 L883.5,54.2 L884.5,53.5 L885.5,52.7 L886.5,52.0 L887.5,51.2 L888.5,50.5 L889.5,49.8 L890.5,49.2 L891.5,48.5 L892.5,47.9 L893.5,47.3 L894.5,46.7 L895.5,46.2 L896.5,45.6 L897.5,45.1 L898.5,44.6 L899.5,44.1 L900.5,43.7 L901.5,43.3 L902.5,42.8 L903.5,42.4 L904.5,42.1 L905.5,41.7 L906.5,41.4 L907.5,41.1 L908.5,40.8 L909.5,40.5 L910.5,40.3 L911.5,40.1 L912.5,39.8 L913.5,39.7 L914.5,39.5 L915.5,39.4 L916.5,39.2 L917.5,39.1 L918.5,39.1 L919.5,39.0 L920.5,39.0 L921.5,39.0 L922.5,39.0 L923.5,39.0 L924.5,39.0 L925.5,39.1 L926.5,39.2 L927.5,39.3 L928.5,39.4 L929.5,39.6 L930.5,39.8 L931.5,40.0 L932.5,40.2 L933.5,40.4 L934.5,40.7 L935.5,41.0 L936.5,41.3 L937.5,41.6 L938.5,41.9 L939.5,42.3 L940.5,42.7 L941.5,43.1 L942.5,43.5 L943.5,44.0 L944.5,44.4 L945.5,44.9 L946.5,45.4 L947.5,46.0 L948.5,46.5 L949.5,47.1 L950.5,47.7 L951.5,48.3 L952.5,48.9 L953.5,49.6 L954.5,50.3 L955.5,50.9 L956.5,51.7 L957.5,52.4 L958.5,53.1 L959.5,53.9 L960.5,54.7 L961.5,55.5 L962.5,56.4 L963.5,57.2 L964.5,58.1 L965.5,59.0 L966.5,59.9 L967.5,60.8 L968.5,61.8 L969.5,62.8 L970.5,63.7 L971.5,64.7 L972.5,65.8 L973.5,66.8 L974.5,67.9 L975.5,69.0 L976.5,70.1 L977.5,71.2 L978.5,72.3 L979.5,73.5 L980.5,74.7 L981.5,75.9 L982.5,77.1 L983.5,78.3 L984.5,79.6 L985.5,80.8 L986.5,82.1 L987.5,83.4 L988.5,84.7 L989.5,86.1 L990.5,87.4 L991.5,88.8 L992.5,90.2 L993.5,91.6 L994.5,93.0 L995.5,94.4 L996.5,95.9 L997.5,97.4 L998.5,98.9 L999.5,100.4 L1000.5,101.9 L1001.5,103.4 L1002.5,105.0 L1003.5,106.5 L1004.5,108.1 L1005.5,109.7 L1006.5,111.3 L1007.5,112.9 L1008.5,114.6 L1009.5,116.2 L1010.5,117.9 L1011.5,119.6 L1012.5,121.3 L1013.5,123.0 L1014.5,124.8 L1015.5,126.5 L1016.5,128.3 L1017.5,130.0 L1018.5,131.8 L1019.5,133.6 L1020.5,135.4 L1021.5,137.2 L1022.5,139.1 L1023.5,140.9 L1024.5,142.8 L1025.5,144.7 L1026.5,146.6 L1027.5,148.5 L1028.5,150.4 L1029.5,152.3 L1030.5,154.2 L1031.5,156.2 L1032.5,158.1 L1033.5,160.1 L1034.5,162.1 L1035.5,164.1 L1036.5,166.1 L1037.5,168.1 L1038.5,170.1 L1039.5,172.1 L1040.5,174.2 L1041.5,176.2 L1042.5,178.3 L1043.5,180.4 L1044.5,182.5 L1045.5,184.5 L1046.5,186.6 L1047.5,188.8 L1048.5,190.9 L1049.5,193.0 L1050.5,195.1 L1051.5,197.3 L1052.5,199.4 L1053.5,201.6 L1054.5,203.7 L1055.5,205.9 L1056.5,208.1 L1057.5,210.3 L1058.5,212.5 L1059.5,214.7 L1060.5,216.9 L1061.5,219.1 L1062.5,221.3 L1063.5,223.5 L1064.5,225.8 L1065.5,228.0 L1066.5,230.2 L1067.5,232.5 L1068.5,234.7 L1069.5,237.0 L1070.5,239.3 L1071.5,241.5 L1072.5,243.8 L1073.5,246.1 L1074.5,248.3 L1075.5,250.6 L1076.5,252.9 L1077.5,255.2 L1078.5,257.5 L1079.5,259.8 L1080.5,262.1 L1081.5,264.4 L1082.5,266.7 L1083.5,269.0 L1084.5,271.3 L1085.5,273.6 L1086.5,275.9 L1087.5,278.2 L1088.5,280.5 L1089.5,282.8 L1090.5,285.1 L1091.5,287.4 L1092.5,289.7 L1093.5,292.1 L1094.5,294.4 L1095.5,296.7 L1096.5,299.0 L1097.5,301.3 L1098.5,303.6 L1099.5,305.9 L1100.5,308.2 L1101.5,310.5 L1102.5,312.9 L1103.5,315.2 L1104.5,317.5 L1105.5,319.8 L1106.5,322.1 L1107.5,324.3 L1108.5,326.6 L1109.5,328.9 L1110.5,331.2 L1111.5,333.5 L1112.5,335.8 L1113.5,338.1 L1114.5,340.3 L1115.5,342.6 L1116.5,344.9 L1117.5,347.1 L1118.5,349.4 L1119.5,351.6 L1120.5,353.9 L1121.5,356.1 L1122.5,358.3 L1123.5,360.6 L1124.5,362.8 L1125.5,365.0 L1126.5,367.2 L1127.5,369.4 L1128.5,371.6 L1129.5,373.8 L1130.5,376.0 L1131.5,378.2 L1132.5,380.3 L1133.5,382.5 L1134.5,384.6 L1135.5,386.8 L1136.5,388.9 L1137.5,391.1 L1138.5,393.2 L1139.5,395.3 L1140.5,397.4 L1141.5,399.5 L1142.5,401.6 L1143.5,403.7 L1144.5,405.7 L1145.5,407.8 L1146.5,409.8 L1147.5,411.9 L1148.5,413.9 L1149.5,415.9 L1150.5,417.9 L1151.5,419.9 L1152.5,421.9 L1153.5,423.9 L1154.5,425.9 L1155.5,427.8 L1156.5,429.7 L1157.5,431.7 L1158.5,433.6 L1159.5,435.5 L1160.5,437.4 L1161.5,439.3 L1162.5,441.1 L1163.5,443.0 L1164.5,444.9 L1165.5,446.7 L1166.5,448.5 L1167.5,450.3 L1168.5,452.1 L1169.5,453.9 L1170.5,455.6 L1171.5,457.4 L1172.5,459.1 L1173.5,460.9 L1174.5,462.6 L1175.5,464.3 L1176.5,465.9 L1177.5,467.6 L1178.5,469.3 L1179.5,470.9 L1180.5,472.5 L1181.5,474.1 L1182.5,475.7 L1182.7,477.4 L1185.8,479.6 L1188.8,481.4 L1193.8,483.3 L1200.8,485.0 L1207.8,486.2 L1216.8,487.2 L1225.8,487.8 L1241.5,489.2 L1267.6,490.3 L1305.8,490.5 L1347.8,490.5 L1369.8,489.7 L1381.5,488.6 L1385.8,487.6 L1389.3,486.0 L1391.6,484.0 L1392.8,481.5 L1393.2,479.0 L1393.2,405.7 L1394.2,405.7 L1394.2,384.0 L1394.5,386.4 L1395.5,384.2 L1396.5,382.1 L1397.5,379.9 L1398.5,377.7 L1399.5,375.5 L1400.5,373.4 L1401.5,371.2 L1402.5,369.0 L1403.5,366.8 L1404.5,364.6 L1405.5,362.3 L1406.5,360.1 L1407.5,357.9 L1408.5,355.6 L1409.5,353.4 L1410.5,351.2 L1411.5,348.9 L1412.5,346.7 L1413.5,344.4 L1414.5,342.1 L1415.5,339.9 L1416.5,337.6 L1417.5,335.3 L1418.5,333.0 L1419.5,330.8 L1420.5,328.5 L1421.5,326.2 L1422.5,323.9 L1423.5,321.6 L1424.5,319.3 L1425.5,317.0 L1426.5,314.7 L1427.5,312.4 L1428.5,310.1 L1429.5,307.8 L1430.5,305.5 L1431.5,303.2 L1432.5,300.8 L1433.5,298.5 L1434.5,296.2 L1435.5,293.9 L1436.5,291.6 L1437.5,289.3 L1438.5,287.0 L1439.5,284.7 L1440.5,282.4 L1441.5,280.0 L1442.5,277.7 L1443.5,275.4 L1444.5,273.1 L1445.5,270.8 L1446.5,268.5 L1447.5,266.2 L1448.5,263.9 L1449.5,261.6 L1450.5,259.3 L1451.5,257.0 L1452.5,254.7 L1453.5,252.4 L1454.5,250.2 L1455.5,247.9 L1456.5,245.6 L1457.5,243.3 L1458.5,241.1 L1459.5,238.8 L1460.5,236.5 L1461.5,234.3 L1462.5,232.0 L1463.5,229.8 L1464.5,227.6 L1465.5,225.3 L1466.5,223.1 L1467.5,220.9" fill="none" stroke="#0000ff" stroke-width="1.4" stroke-linejoin="round" shape-rendering="crispEdges"/>
<!-- red bias line -->
<rect x="61" y="462" width="1408" height="3" fill="#ed1c24"/>
<!-- underline v(Vin) -->
<rect x="62.8" y="605" width="87.2" height="2" fill="#009900"/>
<!-- black markers -->
<g stroke="#000" fill="none" stroke-linecap="butt">
<line x1="668.4" y1="475" x2="668.4" y2="541.6" stroke-width="3"/>
<line x1="707.3" y1="488" x2="707.3" y2="541" stroke-width="3"/>
<line x1="638" y1="526.3" x2="668" y2="526.3" stroke-width="3"/>
<path d="M649.8,520.2 L667.3,526.3 L649,533.2" stroke-width="3" stroke-linecap="round" stroke-linejoin="round"/>
<line x1="708.5" y1="514.4" x2="776" y2="514.4" stroke-width="3"/>
<path d="M726.1,508 L709,514.4 L727.6,521" stroke-width="3" stroke-linecap="round" stroke-linejoin="round"/>
</g>
<!-- orange annotation -->
<g stroke="#ff7f27" fill="none" stroke-linecap="round" stroke-linejoin="round" shape-rendering="crispEdges">
<line x1="875.6" y1="331.6" x2="716" y2="424.8" stroke-width="3"/>
<path d="M723.6,408.4 L715.6,425 L738.2,423.4" stroke-width="2.8"/>
<ellipse cx="707.5" cy="431.1" rx="7.1" ry="9.1" stroke-width="2.8" shape-rendering="geometricPrecision"/>
</g>
<text x="716.24" y="23.9" fill="#0000ff" stroke="#0000ff" stroke-width="0.25" font-size="21" textLength="96.56" lengthAdjust="spacingAndGlyphs">circuit2.cir</text>
<text x="6.67" y="37" fill="#0000ff" stroke="#0000ff" stroke-width="0.25" font-size="22" textLength="54.09" lengthAdjust="spacingAndGlyphs">20.33</text>
<text x="8.01" y="172" fill="#0000ff" stroke="#0000ff" stroke-width="0.25" font-size="22" textLength="52.44" lengthAdjust="spacingAndGlyphs">15.00</text>
<text x="7.90" y="298" fill="#0000ff" stroke="#0000ff" stroke-width="0.25" font-size="22" textLength="52.44" lengthAdjust="spacingAndGlyphs">10.00</text>
<text x="19.45" y="425" fill="#0000ff" stroke="#0000ff" stroke-width="0.25" font-size="22" textLength="41.07" lengthAdjust="spacingAndGlyphs">5.00</text>
<text x="11.90" y="565" fill="#0000ff" stroke="#0000ff" stroke-width="0.25" font-size="22" textLength="49.10" lengthAdjust="spacingAndGlyphs">-0.56</text>
<text x="63.04" y="578" fill="#0000ff" stroke="#0000ff" stroke-width="0.25" font-size="22" textLength="98.45" lengthAdjust="spacingAndGlyphs">3.23E-15u</text>
<text x="1441.16" y="578" fill="#0000ff" stroke="#0000ff" stroke-width="0.25" font-size="22" textLength="53.20" lengthAdjust="spacingAndGlyphs">2.05u</text>
<text clip-path="url(#cpv)" x="63.63" y="603" fill="#009900" stroke="#009900" stroke-width="0.25" font-size="21.5" textLength="86.94" lengthAdjust="spacingAndGlyphs">v(Vin) (V)</text>
<text x="377.55" y="603.1" fill="#0000ff" stroke="#0000ff" stroke-width="0.25" font-size="21.5" textLength="111.81" lengthAdjust="spacingAndGlyphs">v(Vout1) (V)</text>
<text x="621.50" y="628.3" fill="#0000ff" stroke="#0000ff" stroke-width="0.25" font-size="21.5" textLength="81.64" lengthAdjust="spacingAndGlyphs">T (Secs)</text>
<text x="24.83" y="632" fill="#22b14c" stroke="#22b14c" stroke-width="0.12" font-size="23" textLength="195.09" lengthAdjust="spacingAndGlyphs">Sinewave at 1 MHz</text>
<text x="333.86" y="630.4" fill="#0000ff" stroke="#0000ff" stroke-width="0.12" font-size="23" textLength="213.21" lengthAdjust="spacingAndGlyphs">Voltage across diode</text>
<text x="878.81" y="323.0" fill="#ff7f27" stroke="#ff7f27" stroke-width="0.12" font-size="23" textLength="157.72" lengthAdjust="spacingAndGlyphs">When the diode</text>
<text x="877.75" y="348.9" fill="#ff7f27" stroke="#ff7f27" stroke-width="0.12" font-size="23" textLength="112.31" lengthAdjust="spacingAndGlyphs">does finally</text>
<text x="877.56" y="374.9" fill="#ff7f27" stroke="#ff7f27" stroke-width="0.12" font-size="23" textLength="189.27" lengthAdjust="spacingAndGlyphs">recover, it does so</text>
<text x="877.55" y="400.8" fill="#ff7f27" stroke="#ff7f27" stroke-width="0.12" font-size="23" textLength="126.66" lengthAdjust="spacingAndGlyphs">really quickly</text>
<text x="782.69" y="455.5" fill="#ed1c24" stroke="#ed1c24" stroke-width="0.12" font-size="23" textLength="277.20" lengthAdjust="spacingAndGlyphs">Bias on diode anode 3 volts</text>
<text x="780.16" y="521.5" fill="#000000" stroke="#000000" stroke-width="0.12" font-size="23" textLength="286.65" lengthAdjust="spacingAndGlyphs">Diode reverse recovery time</text>

</svg>
</body></html>
